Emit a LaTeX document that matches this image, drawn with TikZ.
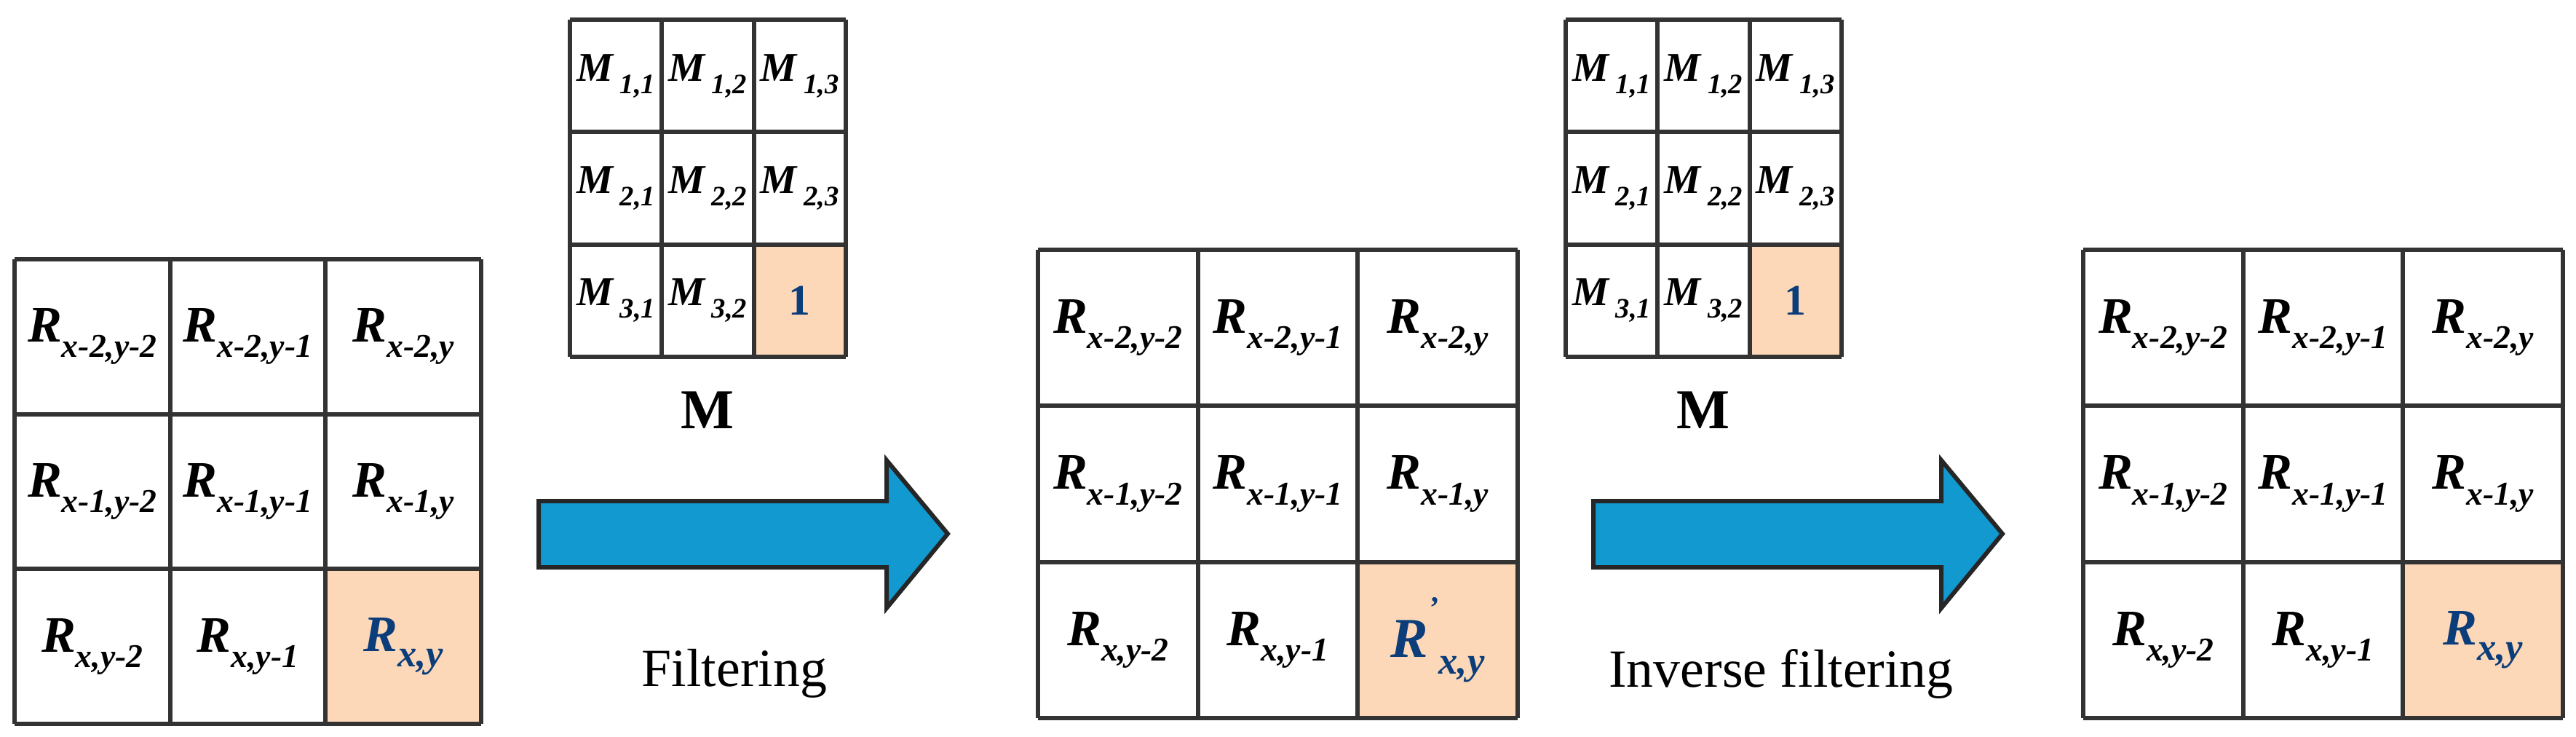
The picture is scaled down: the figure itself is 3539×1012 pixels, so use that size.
\documentclass[tikz,border=0pt]{standalone}
\usepackage{fontspec}
\setmainfont{Liberation Serif}
\definecolor{peach}{HTML}{FDD8B8}
\definecolor{arrblue}{HTML}{1199D0}
\definecolor{dblue}{HTML}{0B3D7A}
\newcommand{\Rsub}[2][black]{\textcolor{#1}{\fontsize{40}{40}\selectfont\bfseries\itshape R\raisebox{-0.3em}{\fontsize{26}{26}\selectfont #2}}}
\newcommand{\Msub}[1]{{\fontsize{32}{32}\selectfont\bfseries\itshape M\,\raisebox{-0.3em}{\fontsize{22}{22}\selectfont #1}}}
\begin{document}
\begin{tikzpicture}[x=0.2mm,y=-0.2mm,
  cell/.style={draw=black!80,line width=1.2mm},
  lab/.style={inner sep=0pt,anchor=center},
  bigarrow/.style={fill=arrblue,draw=black!85,line width=1.2mm}]
\useasboundingbox (0,0) rectangle (3539,1012);
% R grids
\foreach \g/\x/\y/\w/\h in {L/20/356/213.7/212.7, C/1426/343/219.7/214.3, R/2862/343/219.7/214.3}{
  \fill[peach] (\x+2*\w,\y+2*\h) rectangle (\x+3*\w,\y+3*\h);
  \foreach \i in {0,...,3}{
    \draw[cell] (\x+\i*\w,\y) -- (\x+\i*\w,\y+3*\h);
    \draw[cell] (\x,\y+\i*\h) -- (\x+3*\w,\y+\i*\h);}
  \coordinate (\g0) at (\x,\y);
  \node[lab] (\g11) at (\x+0.5*\w,\y+0.5*\h) {\Rsub{x-2,y-2}};
  \node[lab] (\g12) at (\x+1.5*\w,\y+0.5*\h) {\Rsub{x-2,y-1}};
  \node[lab] (\g13) at (\x+2.5*\w,\y+0.5*\h) {\Rsub{x-2,y}};
  \node[lab] (\g21) at (\x+0.5*\w,\y+1.5*\h) {\Rsub{x-1,y-2}};
  \node[lab] (\g22) at (\x+1.5*\w,\y+1.5*\h) {\Rsub{x-1,y-1}};
  \node[lab] (\g23) at (\x+2.5*\w,\y+1.5*\h) {\Rsub{x-1,y}};
  \node[lab] (\g31) at (\x+0.5*\w,\y+2.5*\h) {\Rsub{x,y-2}};
  \node[lab] (\g32) at (\x+1.5*\w,\y+2.5*\h) {\Rsub{x,y-1}};
}
\node[lab] (L33) at (20+2.5*213.7,356+2.5*212.7) {\Rsub[dblue]{\fontsize{30}{30}\selectfont x,y}};
\node[lab] (C33) at (1426+2.5*219.7,343+2.5*214.3) {\textcolor{dblue}{\fontsize{44}{44}\selectfont\bfseries\itshape R\raisebox{0.7em}{\fontsize{24}{24}\selectfont '}\raisebox{-0.3em}{\fontsize{30}{30}\selectfont x,y}}};
\node[lab] (R33) at (2862+2.5*219.7,343+2.5*214.3) {\Rsub[dblue]{\fontsize{30}{30}\selectfont x,y}};
% M grids
\foreach \g/\x in {A/783, B/2151}{
  \def\w{126.3}\def\h{154.3}\def\y{27}
  \fill[peach] (\x+2*\w,\y+2*\h) rectangle (\x+3*\w,\y+3*\h);
  \foreach \i in {0,...,3}{
    \draw[cell] (\x+\i*\w,\y) -- (\x+\i*\w,\y+3*\h);
    \draw[cell] (\x,\y+\i*\h) -- (\x+3*\w,\y+\i*\h);}
  \foreach \r in {1,2,3}{\foreach \c in {1,2,3}{
    \ifnum\r\c=33\else
    \node[lab] (\g\r\c) at (\x+\c*\w-0.5*\w,\y+\r*\h-0.5*\h) {\Msub{\r,\c}};\fi}}
  \node[lab] (\g33) at (\x+2.5*\w,\y+2.5*\h) {\textcolor{dblue}{\fontsize{34}{34}\selectfont\bfseries 1}};
  \node[lab] (\g M) at (\x+1.5*\w,563) {\fontsize{44}{44}\selectfont\bfseries M};
}
% arrows
\foreach \n/\x in {1/740, 2/2189}{
  \draw[bigarrow] (\x,688) -- (\x+478,688) -- (\x+478,632) -- (\x+562,733) -- (\x+478,835) -- (\x+478,779) -- (\x,779) -- cycle;
  \coordinate (arr\n) at (\x+280,733);}
\node[lab] (f1) at (1009,925) {\fontsize{42}{42}\selectfont Filtering};
\node[lab] (f2) at (2447,925) {\fontsize{42}{42}\selectfont Inverse filtering};
\end{tikzpicture}
\end{document}
